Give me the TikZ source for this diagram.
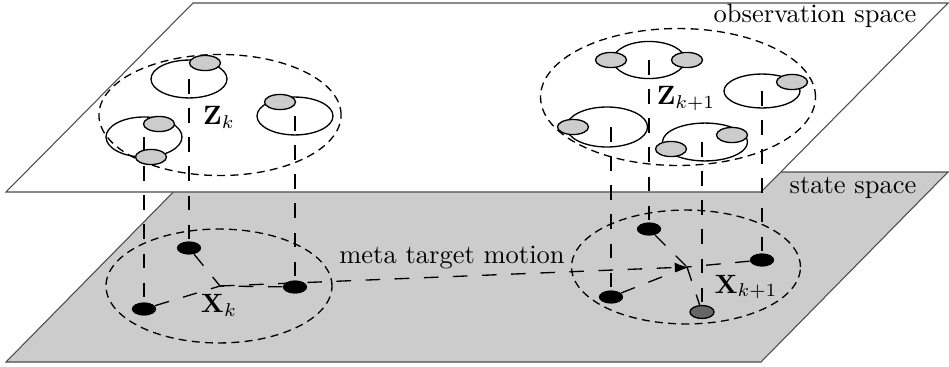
\documentclass[tikz,border=0pt]{standalone}
\usetikzlibrary{shapes.geometric,arrows.meta}
\begin{document}
\begin{tikzpicture}[x=0.3775pt,y=-0.3775pt,
  plane/.style={draw=black!70,line width=0.4pt},
  region/.style={ellipse,draw,dash pattern=on 3pt off 2pt,line width=0.5pt,inner sep=0pt},
  meas/.style={ellipse,draw,line width=0.5pt,inner sep=0pt},
  det/.style={ellipse,draw,fill=black!20,line width=0.5pt,inner sep=0pt,
              minimum width=11.7pt,minimum height=5.7pt},
  tgt/.style={ellipse,fill=black,inner sep=0pt,minimum width=9.1pt,minimum height=4.9pt},
  proj/.style={dash pattern=on 5.5pt off 5.5pt,line width=0.5pt},
  lbl/.style={inner sep=0pt}]
\useasboundingbox (0,0) rectangle (949,366);

% the two planes
\filldraw[plane,fill=black!20] (6,362) -- (761,362) -- (948,172) -- (193,172) -- cycle;
\filldraw[plane,fill=white] (6,192) -- (761,192) -- (948,3) -- (193,3) -- cycle;
\node[lbl,anchor=base] (obs) at (815,23) {observation space};
\node[lbl,anchor=base] (st) at (853,193) {state space};

% measurement sets
\node[region,minimum width=91.4pt,minimum height=45.7pt] (Zk) at (220,115) {};
\node[region,minimum width=103.8pt,minimum height=51.7pt] (Zk1) at (678,97) {};
\node[meas,minimum width=28.7pt,minimum height=14.3pt] (A) at (189,79) {};
\node[meas,minimum width=28.7pt,minimum height=15.1pt] (B) at (144,137) {};
\node[meas,minimum width=28.7pt,minimum height=14.3pt] (C) at (295,116) {};
\node[meas,minimum width=27.2pt,minimum height=14.0pt] (D) at (649,60) {};
\node[meas,minimum width=28.7pt,minimum height=12.8pt] (E) at (762,91) {};
\node[meas,minimum width=30.6pt,minimum height=15.1pt] (F) at (607,127) {};
\node[meas,minimum width=32.1pt,minimum height=14.3pt] (G) at (705,142) {};

% state sets
\node[region,minimum width=85.3pt,minimum height=43pt] (Xk) at (219,286) {};
\node[region,minimum width=86.4pt,minimum height=43pt] (Xk1) at (686,267) {};

% targets
\node[tgt] (P1) at (189,248) {};
\node[tgt] (P2) at (144,309) {};
\node[tgt] (P3) at (295,287) {};
\node[tgt] (Q1) at (649,229) {};
\node[tgt] (Q2) at (762,260) {};
\node[tgt] (Q3) at (611,297) {};
\node[tgt,draw,fill=black!60,line width=0.5pt] (Q4) at (702,312) {};
\coordinate (cL) at (220,286);
\coordinate (cR) at (687,267);

% projections from measurements down to targets
\draw[proj] (P1 |- A.center) -- (P1.north);
\draw[proj] (P2 |- B.center) -- (P2.north);
\draw[proj] (P3 |- C.center) -- (P3.north);
\draw[proj] (Q1 |- D.center) -- (Q1.north);
\draw[proj] (Q2 |- E.center) -- (Q2.north);
\draw[proj] (Q3 |- F.center) -- (Q3.north);
\draw[proj] (Q4 |- G.center) -- (Q4.north);

% detections
\node[det] (a1) at (205,63) {};
\node[det] (b1) at (159,124) {};
\node[det] (b2) at (151,157) {};
\node[det] (c1) at (280,102) {};
\node[det] (d1) at (611,60) {};
\node[det] (d2) at (687,60) {};
\node[det] (e1) at (792,82) {};
\node[det] (f1) at (573,127) {};
\node[det] (g1) at (732,135) {};
\node[det] (g2) at (671,149) {};

% targets to meta target
\draw[proj] (P1) -- (cL);
\draw[proj] (P2) -- (cL);
\draw[proj] (P3) -- (cL);
\draw[proj] (Q1) -- (cR);
\draw[proj] (Q2) -- (cR);
\draw[proj] (Q3) -- (cR);
\draw[proj] (cR) -- (Q4);
\draw[proj,-{Latex[length=4.6pt,width=3.8pt]}] (cL) -- (cR);

% redraw target marks on top
\node[tgt] at (P1) {};
\node[tgt] at (P2) {};
\node[tgt] at (P3) {};
\node[tgt] at (Q1) {};
\node[tgt] at (Q2) {};
\node[tgt] at (Q3) {};

% labels
\node[lbl] (lZk) at (219,117) {$\mathbf{Z}_k$};
\node[lbl] (lZk1) at (686,99) {$\mathbf{Z}_{k+1}$};
\node[lbl] (lXk) at (219,305) {$\mathbf{X}_k$};
\node[lbl] (lXk1) at (746,287) {$\mathbf{X}_{k+1}$};
\node[lbl,anchor=base] (mtm) at (452,263) {meta target motion};
\end{tikzpicture}
\end{document}
